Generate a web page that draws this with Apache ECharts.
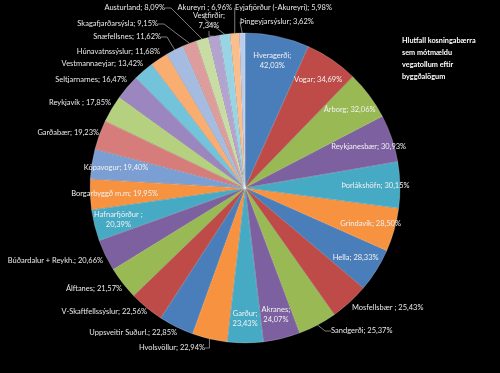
<!DOCTYPE html>
<html>
<head>
<meta charset="utf-8">
<script src="https://cdn.jsdelivr.net/npm/echarts@6/dist/echarts.min.js"></script>
<style>html,body{margin:0;padding:0;background:#000;}#c{width:500px;height:373px;}</style>
</head>
<body>
<div id="c"></div>
<script>
const categories = ["Hveragerði","Vogar","Árborg","Reykjanesbær","Þorlákshöfn","Grindavík","Hella","Mosfellsbær","Sandgerði","Akranes","Garður","Hvolsvöllur","Uppsveitir Suðurl.","V-Skaftfellssýslur","Álftanes","Búðardalur + Reykh.","Hafnarfjörður","Borgarbyggð m.m","Kópavogur","Garðabær","Reykjavík","Seltjarnarnes","Vestmannaeyjar","Húnavatnssýslur","Snæfellsnes","Skagafjarðarsýsla","Austurland","Vestfirðir","Akureyri","Eyjafjörður (-Akureyri)","Þingeyjarsýslur"];
const values = [42.03,34.69,32.06,30.93,30.15,28.50,28.33,25.43,25.37,24.07,23.43,22.94,22.85,22.56,21.57,20.66,20.39,19.95,19.40,19.23,17.85,16.47,13.42,11.68,11.62,9.15,8.09,7.34,6.96,5.98,3.62];
const insideLabels = ["Hveragerði","Vogar","Árborg","Reykjanesbær","Þorlákshöfn","Grindavík","Hella","Akranes","Garður","Hafnarfjörður","Borgarbyggð m.m","Kópavogur"];
const twoLine = ["Hveragerði","Akranes","Garður","Hafnarfjörður","Vestfirðir"];
const spaceBeforeSemi = ["Mosfellsbær","Hafnarfjörður","Reykjavík","Akureyri"];
const withLine = ["Sandgerði","Hvolsvöllur","Snæfellsnes","Skagafjarðarsýsla","Austurland","Vestfirðir","Akureyri","Eyjafjörður (-Akureyri)","Þingeyjarsýslur"];
const title = "Hlutfall kosningabærra\nsem mótmældu\nvegatollum eftir\nbyggðalögum";

// placement of the outside data labels (layout only, not data)
const labelPlace = {
  "Mosfellsbær":[352,308,'left'],
  "Sandgerði":[331,331,'left'],
  "Hvolsvöllur":[205,348,'right'],
  "Uppsveitir Suðurl.":[177,333,'right'],
  "V-Skaftfellssýslur":[147,312,'right'],
  "Álftanes":[122,289,'right'],
  "Búðardalur + Reykh.":[103,261,'right'],
  "Garðabær":[99,133,'right'],
  "Reykjavík":[111,103,'right'],
  "Seltjarnarnes":[127,80,'right'],
  "Vestmannaeyjar":[143,64,'right'],
  "Húnavatnssýslur":[160,52,'right'],
  "Snæfellsnes":[161,37,'right'],
  "Skagafjarðarsýsla":[158,24,'right'],
  "Austurland":[165,8,'right'],
  "Vestfirðir":[209,21,'center'],
  "Akureyri":[232,8,'right'],
  "Eyjafjörður (-Akureyri)":[235,8,'left'],
  "Þingeyjarsýslur":[240,22,'left']
};

const base = ['#4a7ebb','#be4b48','#98b954','#7d60a0','#46aac4','#f69240'];
const light = ['#7b9fd3','#d67c7a','#b5d07e','#9c86c0','#73c4da','#f9ad70','#a5bce0','#dc9d9c','#c8dca3','#b3a4cf','#98d4e4','#fabd8c','#bccbe8'];
const colors = values.map((v,i)=> i<18 ? base[i%6] : light[i-18]);

function fmt(n){ return n.toFixed(2).replace('.',','); }
function labelText(name, v){
  const sep = spaceBeforeSemi.includes(name) ? ' ;' : ';';
  return name + sep + (twoLine.includes(name) ? '\n' : ' ') + fmt(v) + '%';
}
const FONT = 'Lato';
const chart = echarts.init(document.getElementById('c'), null, {renderer:'canvas'});
const mainData = categories.map((n,i)=>({
  name:n, value:values[i],
  itemStyle:{color:colors[i]},
  label:{show: !insideLabels.includes(n)},
  labelLine:{show: withLine.includes(n)}
}));
const overlayData = categories.map((n,i)=>({
  name:n, value:values[i],
  label:{show: insideLabels.includes(n)}
}));
chart.setOption({
  backgroundColor:'#000',
  animation:false,
  title:{text:title,left:397,top:30,textStyle:{color:'#fff',fontSize:7.3,fontWeight:'bold',fontFamily:FONT,lineHeight:12}},
  series:[
    {type:'pie',center:[245,188],radius:[0,155],startAngle:90,clockwise:true,
     data:mainData,
     itemStyle:{borderColor:'rgba(255,255,255,0.35)',borderWidth:0.6},
     label:{position:'outside',color:'#e8e8e8',fontSize:7.5,fontFamily:FONT,overflow:'none',
       formatter:p=>labelText(p.name,p.value),lineHeight:10},
     labelLine:{length:6,length2:6,lineStyle:{color:'#9a9a9a',width:0.8}},
     labelLayout:function(p){
       const pl = labelPlace[categories[p.dataIndex]];
       if(!pl) return {};
       return {x:pl[0],y:pl[1],align:pl[2],verticalAlign:'middle',hideOverlap:false,moveOverlap:null};
     },
     emphasis:{disabled:true},silent:true},
    {type:'pie',center:[245,188],radius:[100,155],startAngle:90,clockwise:true,
     data:overlayData,
     itemStyle:{color:'rgba(0,0,0,0)'},
     label:{position:'inside',color:'#f2f2f2',fontSize:7.5,fontFamily:FONT,overflow:'none',
       formatter:p=>labelText(p.name,p.value),lineHeight:10},
     labelLine:{show:false},
     labelLayout:{hideOverlap:false},
     emphasis:{disabled:true},silent:true}
  ]
});
</script>
</body>
</html>
